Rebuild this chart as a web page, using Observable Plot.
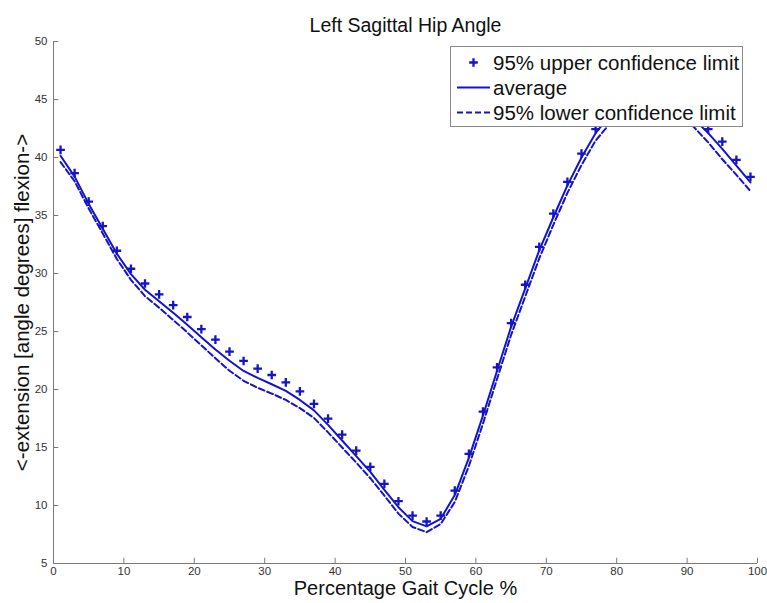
<!DOCTYPE html>
<html>
<head>
<meta charset="utf-8">
<script src="https://cdn.jsdelivr.net/npm/d3@7"></script>
<script src="https://cdn.jsdelivr.net/npm/@observablehq/plot@0.6"></script>
<style>
  html, body { margin: 0; padding: 0; background: #fff; }
  #wrap { position: relative; width: 767px; height: 603px; font-family: "Liberation Sans", Arial, sans-serif; }
  #legend { position: absolute; left: 450px; top: 46px; width: 291px; height: 79px; border: 1px solid #8a8a8a; background: #fff; }
  #legend svg { position: absolute; left: 0; top: 0; }
</style>
</head>
<body>
<div id="wrap"><div id="legend"></div></div>
<script>
// Percentage of gait cycle (sample positions)
const gaitPct = [1,3,5,7,9,11,13,15,17,19,21,23,25,27,29,31,33,35,37,39,41,43,45,47,49,
                 51,53,55,57,59,61,63,65,67,69,71,73,75,77,79,81,83,85,87,89,91,93,95,97,99];
// 95% upper confidence limit (plus markers)
const upperCL = [40.66,38.65,36.2,34.09,31.96,30.41,29.14,28.2,27.28,26.25,25.2,24.3,23.26,22.46,21.8,21.25,20.62,19.84,18.76,17.49,16.11,14.73,13.33,11.86,10.37,
                 9.13,8.62,9.13,11.29,14.45,18.09,21.91,25.73,29.03,32.3,35.17,37.9,40.34,42.44,44.0,45.1,45.7,45.9,45.6,44.9,43.8,42.44,41.37,39.8,38.33];
// average (solid line)
const average = [40.15,38.35,36.0,33.85,31.7,29.95,28.6,27.6,26.62,25.58,24.5,23.45,22.48,21.6,21.0,20.45,19.88,19.1,18.2,16.95,15.6,14.25,12.9,11.35,9.85,
                 8.65,8.2,8.85,10.9,14.1,17.75,21.6,25.4,28.7,32.0,34.85,37.6,40.0,42.1,43.6,44.7,45.3,45.5,45.2,44.5,43.3,42.1,40.75,39.3,37.85];
// 95% lower confidence limit (dashed line)
const lowerCL = [39.6,37.95,35.6,33.45,31.25,29.45,28.05,27.05,26.0,24.92,23.8,22.7,21.62,20.75,20.15,19.65,19.1,18.4,17.55,16.3,15.0,13.7,12.35,10.85,9.3,
                 8.15,7.7,8.4,10.3,13.4,17.05,20.9,24.7,28.0,31.3,34.2,36.95,39.35,41.45,42.9,44.0,44.6,44.8,44.5,43.8,42.6,41.3,39.85,38.5,37.1];

const xTicks = [0,10,20,30,40,50,60,70,80,90,100];
const yTicks = [5,10,15,20,25,30,35,40,45,50];
const seriesNames = ["95% upper confidence limit", "average", "95% lower confidence limit"];
const titleText = "Left Sagittal Hip Angle";
const xLabel = "Percentage Gait Cycle %";
const yLabel = "<-extension [angle degrees] flexion->";

const blue = "#1414c8";
const axisGray = "#7a7a7a";

const upperData = gaitPct.map((x, i) => ({x, y: upperCL[i]}));
const avgData = gaitPct.map((x, i) => ({x, y: average[i]}));
const lowerData = gaitPct.map((x, i) => ({x, y: lowerCL[i]}));

const chart = Plot.plot({
  width: 767,
  height: 603,
  marginTop: 41,
  marginRight: 10,
  marginBottom: 40,
  marginLeft: 53,
  style: {fontFamily: '"Liberation Sans", Arial, sans-serif', fontSize: "11.5px", color: "#333", background: "#fff"},
  x: {domain: [0, 100], label: null},
  y: {domain: [5, 50], label: null},
  marks: [
    Plot.axisX(xTicks, {tickSize: 0, tickPadding: 3, fontSize: 11.5, fill: "#333"}),
    Plot.axisY(yTicks, {tickSize: 0, tickPadding: 6, fontSize: 11.5, fill: "#333"}),
    Plot.ruleX(xTicks, {x: d => d, y1: 5, y2: 5.45, stroke: axisGray}),
    Plot.ruleY(yTicks, {y: d => d, x1: 0, x2: 0.75, stroke: axisGray}),
    Plot.ruleY([5], {stroke: axisGray}),
    Plot.ruleX([0], {stroke: axisGray}),
    Plot.line(avgData, {x: "x", y: "y", stroke: blue, strokeWidth: 2}),
    Plot.line(lowerData, {x: "x", y: "y", stroke: blue, strokeWidth: 2, strokeDasharray: "6,3"}),
    Plot.dot(upperData, {x: "x", y: "y", symbol: "plus", r: 2.9, stroke: blue, strokeWidth: 2.3}),
    Plot.text([titleText], {frameAnchor: "top", dy: -23, fontSize: 19.5, fill: "#111"}),
    Plot.text([xLabel], {frameAnchor: "bottom", dy: 31, fontSize: 20, fill: "#111"}),
    Plot.text([yLabel], {frameAnchor: "left", textAnchor: "middle", dx: -31, rotate: -90, fontSize: 20.5, fill: "#111"})
  ]
});
const wrap = document.getElementById("wrap");
wrap.insertBefore(chart, wrap.firstChild);

// Legend
const leg = d3.select("#legend").append("svg").attr("width", 291).attr("height", 79);
const rowsY = [15.5, 40.5, 65.5];
const sx0 = 6, sx1 = 39, tx = 42;
// row 1: plus marker
leg.append("path")
  .attr("transform", `translate(${(sx0 + sx1) / 2},${rowsY[0]})`)
  .attr("d", d3.symbol(d3.symbolPlus, Math.PI * 2.9 * 2.9)())
  .attr("fill", "none").attr("stroke", blue).attr("stroke-width", 2.3);
leg.append("line").attr("x1", sx0).attr("x2", sx1).attr("y1", rowsY[1]).attr("y2", rowsY[1])
  .attr("stroke", blue).attr("stroke-width", 2);
leg.append("line").attr("x1", sx0).attr("x2", sx1).attr("y1", rowsY[2]).attr("y2", rowsY[2])
  .attr("stroke", blue).attr("stroke-width", 2).attr("stroke-dasharray", "6,3");
seriesNames.forEach((t, i) => {
  leg.append("text").attr("x", tx).attr("y", rowsY[i]).attr("dy", "0.35em")
    .attr("font-family", '"Liberation Sans", Arial, sans-serif').attr("font-size", 20.5)
    .attr("fill", "#111").text(t);
});
</script>
</body>
</html>
